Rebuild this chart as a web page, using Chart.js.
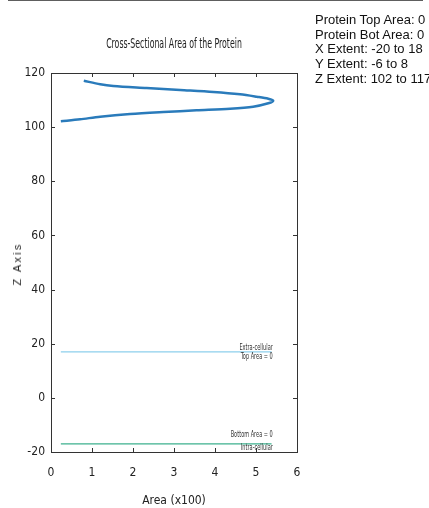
<!DOCTYPE html>
<html>
<head>
<meta charset="utf-8">
<script src="https://cdn.jsdelivr.net/npm/chart.js@4.4.0/dist/chart.umd.min.js"></script>
<style>
  html, body { margin: 0; padding: 0; background: #fff; }
  #wrap { position: relative; width: 429px; height: 508px; overflow: hidden; }
  #topline { position: absolute; left: 8px; top: 0; width: 415px; height: 1px; background: #5e5e5e; }
  #title { position: absolute; left: 24px; width: 300px; top: 35px; text-align: center;
    font: 14px "Liberation Sans Narrow", "DejaVu Sans Condensed", sans-serif; color: #222; transform: scaleX(0.62); }
  #ylab { position: absolute; left: 17px; top: 264px; transform: translate(-50%, -50%) rotate(-90deg);
    font: 11px "Liberation Sans", Arial, sans-serif; letter-spacing: 2.2px; color: #222; white-space: nowrap; }
  #info { position: absolute; left: 315px; top: 13px; font: 13px "Liberation Sans", Arial, sans-serif;
    line-height: 14.7px; color: #111; white-space: nowrap; }
  canvas { position: absolute; left: 0; top: 0; }
</style>
</head>
<body>
<div id="wrap">
  <canvas id="c" width="429" height="508"></canvas>
  <div id="topline"></div>
  <div id="title">Cross-Sectional Area of the Protein</div>
  <div id="ylab">Z Axis</div>
  <div id="info"></div>
</div>
<script>
// ---- data ----
const curveArea = [0.80, 1.20, 1.52, 2.33, 3.15, 3.96, 4.61, 5.02, 5.30, 5.42, 5.30, 4.93, 4.37, 3.55, 2.74, 1.93, 1.20, 0.71, 0.24];
const curveZ    = [117.16, 115.83, 115.20, 114.46, 113.72, 112.98, 112.13, 111.24, 110.51, 109.77, 108.81, 107.55, 106.81, 106.22, 105.59, 104.85, 103.86, 102.90, 102.16];
const membraneArea = [0.24, 5.38];
const topMembraneZ = [17, 17];
const botMembraneZ = [-17, -17];
const membraneLabelX = 5.41;
const topLabels = ["Extra-cellular", "Top Area = 0"];
const botLabels = ["Bottom Area = 0", "Intra-cellular"];
const xTicks = [0, 1, 2, 3, 4, 5, 6];
const yTicks = [-20, 0, 20, 40, 60, 80, 100, 120];
const infoLines = ["Protein Top Area: 0", "Protein Bot Area: 0", "X Extent: -20 to 18", "Y Extent: -6 to 8", "Z Extent: 102 to 117"];

document.getElementById('info').innerHTML = infoLines.join('<br>');

const toPts = (xs, ys) => xs.map((x, i) => ({ x: x, y: ys[i] }));

function condensedText(ctx, text, x, y, sx) {
  ctx.save();
  ctx.translate(x, y);
  ctx.scale(sx, 1);
  ctx.fillText(text, 0, 0);
  ctx.restore();
}

const frameTicks = {
  id: 'frameTicks',
  afterDraw(chart) {
    const { ctx, chartArea: a, scales } = chart;
    ctx.save();
    ctx.strokeStyle = '#333';
    ctx.lineWidth = 1;
    ctx.strokeRect(Math.round(a.left) + 0.5, Math.round(a.top) + 0.5, Math.round(a.right - a.left), Math.round(a.bottom - a.top));
    const L = 4;
    ctx.beginPath();
    xTicks.forEach(v => {
      const px = Math.round(scales.x.getPixelForValue(v)) + 0.5;
      ctx.moveTo(px, a.bottom); ctx.lineTo(px, a.bottom - L);
      ctx.moveTo(px, a.top); ctx.lineTo(px, a.top + L);
    });
    yTicks.forEach(v => {
      const py = Math.round(scales.y.getPixelForValue(v)) + 0.5;
      ctx.moveTo(a.left, py); ctx.lineTo(a.left + L, py);
      ctx.moveTo(a.right, py); ctx.lineTo(a.right - L, py);
    });
    ctx.stroke();
    // membrane labels
    ctx.fillStyle = '#333';
    ctx.font = '9px "Liberation Sans Narrow", "DejaVu Sans Condensed", sans-serif';
    ctx.textAlign = 'right';
    ctx.textBaseline = 'middle';
    const lx = scales.x.getPixelForValue(membraneLabelX);
    const ty = scales.y.getPixelForValue(topMembraneZ[0]);
    const by = scales.y.getPixelForValue(botMembraneZ[0]);
    condensedText(ctx, topLabels[0], lx, ty - 4, 0.62);
    condensedText(ctx, topLabels[1], lx, ty + 4.5, 0.62);
    condensedText(ctx, botLabels[0], lx, by - 9, 0.62);
    condensedText(ctx, botLabels[1], lx, by + 3.5, 0.62);
    ctx.restore();
  }
};

const narrow = '"Liberation Sans Narrow", "DejaVu Sans Condensed", sans-serif';

new Chart(document.getElementById('c'), {
  type: 'scatter',
  data: {
    datasets: [
      { data: toPts(curveArea, curveZ), showLine: true, borderColor: '#2a7bbb', borderWidth: 2.5,
        pointRadius: 0, tension: 0.3, fill: false },
      { data: toPts(membraneArea, topMembraneZ), showLine: true, borderColor: '#8dcfec', borderWidth: 1.3,
        pointRadius: 0, fill: false },
      { data: toPts(membraneArea, botMembraneZ), showLine: true, borderColor: '#3db08e', borderWidth: 1.3,
        pointRadius: 0, fill: false }
    ]
  },
  options: {
    responsive: false,
    animation: false,
    devicePixelRatio: 1,
    layout: { padding: { left: 0, top: 73, right: 132, bottom: 0 } },
    plugins: { legend: { display: false }, tooltip: { enabled: false }, title: { display: false } },
    scales: {
      x: {
        type: 'linear', min: 0, max: 6,
        afterBuildTicks: s => { s.ticks = xTicks.map(v => ({ value: v })); },
        afterFit: s => { s.height = 56; },
        grid: { display: false, drawTicks: false },
        border: { display: false },
        ticks: { padding: 14, color: '#222', font: { family: narrow, size: 12 } },
        title: { display: true, text: 'Area (x100)', color: '#222', padding: { top: 0, bottom: 0 },
          font: { family: narrow, size: 12 } }
      },
      y: {
        type: 'linear', min: -20, max: 120,
        afterBuildTicks: s => { s.ticks = yTicks.map(v => ({ value: v })); },
        afterFit: s => { s.width = 51; },
        grid: { display: false, drawTicks: false },
        border: { display: false },
        ticks: { padding: 6, color: '#222', font: { family: narrow, size: 12 } }
      }
    }
  },
  plugins: [frameTicks]
});
</script>
</body>
</html>
